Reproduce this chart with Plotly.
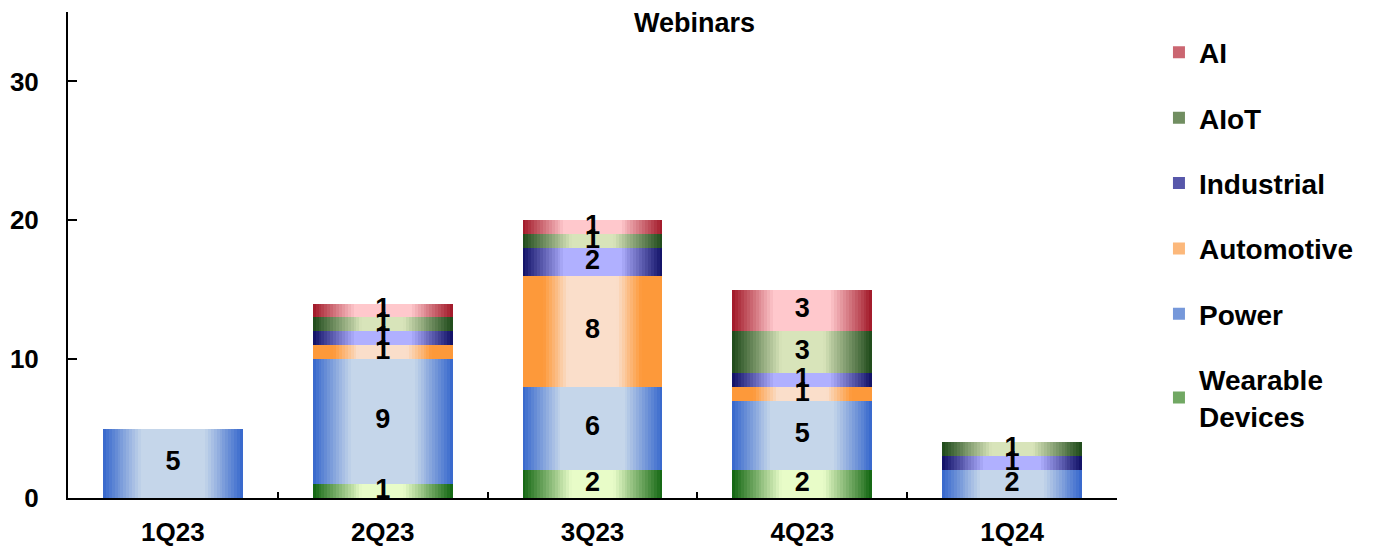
import plotly.graph_objects as go

categories = ["1Q23", "2Q23", "3Q23", "4Q23", "1Q24"]
series_names = ["Wearable<br>Devices", "Power", "Automotive", "Industrial", "AIoT", "AI"]
wearable = [0, 1, 2, 2, 0]
power = [5, 9, 6, 5, 2]
automotive = [0, 1, 8, 1, 0]
industrial = [0, 1, 2, 1, 1]
aiot = [0, 1, 1, 3, 1]
ai = [0, 1, 1, 3, 0]
y_ticks = [0, 10, 20, 30]

values = [wearable, power, automotive, industrial, aiot, ai]
# (edge colour, centre colour, ramp start, ramp end)
styles = [
    ((16, 100, 16), (232, 252, 200), 0.0, 0.7),
    ((53, 102, 204), (197, 214, 234), 0.0, 0.55),
    ((253, 153, 58), (250, 222, 202), 0.3, 0.65),
    ((14, 14, 100), (176, 176, 255), 0.0, 0.6),
    ((28, 72, 24), (216, 228, 186), 0.0, 0.7),
    ((160, 22, 38), (255, 200, 204), 0.0, 0.6),
]

def mix(a, b, t):
    return "rgb(%d,%d,%d)" % tuple(round(a[i] + (b[i] - a[i]) * t) for i in range(3))

BAR_W = 0.667
N = 24
FONT = "Liberation Sans, Arial, sans-serif"

fig = go.Figure()
bases = [0] * len(categories)
label_x, label_y, label_t = [], [], []
for si, (name, vals) in enumerate(zip(series_names, values)):
    dark, light, u0, u1 = styles[si]
    for k in range(N):
        u = (k + 0.5) / N
        t = min(1.0, max(0.0, (u - u0) / (u1 - u0)))
        fig.add_trace(go.Bar(
            x=categories, y=vals, base=bases, width=[BAR_W * (1 - k / N)] * len(categories),
            marker=dict(color=mix(dark, light, t), line=dict(width=0)),
            name=name, showlegend=False, hoverinfo="skip",
        ))
    for i, v in enumerate(vals):
        if v:
            label_x.append(categories[i])
            label_y.append(bases[i] + v / 2)
            label_t.append(str(v))
    bases = [b + v for b, v in zip(bases, vals)]

fig.add_trace(go.Scatter(
    x=label_x, y=label_y, text=label_t, mode="text", showlegend=False, hoverinfo="skip",
    textfont=dict(family=FONT, size=27, color="black", weight="bold"),
))

# legend entries, top to bottom: AI ... Wearable Devices
for si in reversed(range(len(series_names))):
    dark, light, u0, u1 = styles[si]
    fig.add_trace(go.Bar(
        x=[None], y=[None], name=series_names[si], legendgroup=series_names[si], showlegend=True,
        marker=dict(color=mix(dark, light, 0.45), line=dict(width=0)),
    ))

fig.add_annotation(
    text="Webinars", xref="paper", yref="paper", x=0.597, y=0.978, showarrow=False,
    font=dict(family=FONT, size=27, color="black", weight="bold"), yanchor="middle",
)

fig.update_layout(
    width=1375, height=546,
    barmode="overlay", bargap=0,
    plot_bgcolor="white", paper_bgcolor="white",
    margin=dict(l=68, r=258, t=12, b=48),
    font=dict(family=FONT, color="black"),
    legend=dict(
        x=1.04, y=0.968, xanchor="left", yanchor="top",
        font=dict(family=FONT, size=28, color="black", weight="bold"),
        traceorder="grouped", tracegroupgap=26, bgcolor="rgba(0,0,0,0)",
    ),
    xaxis=dict(
        type="category", categoryorder="array", categoryarray=categories,
        range=[-0.5, 4.5], automargin=False,
        showline=True, linecolor="black", linewidth=2, ticks="inside", ticklen=6,
        tickcolor="black", tickwidth=1.5, tickson="boundaries", showgrid=False,
        tickfont=dict(family=FONT, size=26, color="black", weight="bold"),
        ticklabelstandoff=10,
    ),
    yaxis=dict(
        range=[0, 35], tickvals=y_ticks, showline=True, linecolor="black", linewidth=2,
        ticks="inside", ticklen=9, tickcolor="black", tickwidth=1.5,
        showgrid=False, zeroline=False, automargin=False,
        tickfont=dict(family=FONT, size=26, color="black", weight="bold"),
        ticklabelstandoff=22,
    ),
)

fig.write_html("out.html")
